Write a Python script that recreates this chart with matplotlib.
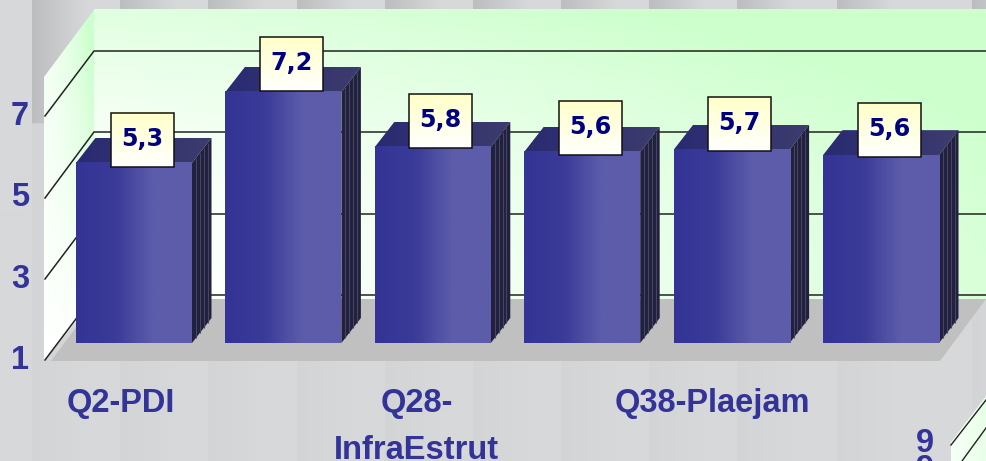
import numpy as np
import matplotlib
matplotlib.use("Agg")
import matplotlib.pyplot as plt
from matplotlib.patches import Polygon, Rectangle
from matplotlib.colors import LinearSegmentedColormap
from matplotlib.collections import LineCollection

# ---- data ----
categories = ["Q2-PDI", "", "Q28-\nInfraEstrut", "", "Q38-Plaejam", ""]
bar_heights = [5.42, 7.16, 5.81, 5.69, 5.74, 5.61]   # heights as drawn against the axis
value_labels = ["5,3", "7,2", "5,8", "5,6", "5,7", "5,6"]
y_ticks = [1, 3, 5, 7]

W, H = 986, 461
NAVY, TICK = "#000080", "#333399"
FONT = "Liberation Sans"
box_drop_px = [4, -1, 1, 3, 1, 2]

fig = plt.figure(figsize=(W / 100, H / 100), dpi=100)
bg = fig.add_axes([0, 0, 1, 1])       # pixel-space scenery
bg.set_xlim(0, W); bg.set_ylim(H, 0); bg.axis("off")

# background with soft vertical bands
band_starts = [32, 120, 208, 297, 385, 473, 561, 649, 737, 837, 972]
xs = np.arange(W)
dark = np.zeros(W)
for s in band_starts:
    dark = np.maximum(dark, np.where(xs >= s, np.clip(1 - (xs - s) / 55, 0, 1), 0))
base = np.array([0xd7, 0xd8, 0xda]) / 255
img = np.ones((H, W, 3)) * base
for yy in range(H):
    k = 0.105 if yy < 124 else 0.014
    img[yy] = base - (dark * k)[:, None]
bg.imshow(img, extent=(0, W, H, 0), aspect="auto", zorder=0, interpolation="bilinear")

# back wall
yy, xx = np.mgrid[0:1:60j, 0:1:120j]
t = np.clip(0.75 * xx ** 1.3 + 0.6 * (1 - yy) ** 2, 0, 1)
green = LinearSegmentedColormap.from_list("g", ["#ffffff", "#ccffcc"])
bg.imshow(t, extent=(94, W, 299, 10), origin="upper", aspect="auto", cmap=green,
          vmin=0, vmax=1, zorder=1)

# left wall
yy, xx = np.mgrid[0:1:60j, 0:1:40j]
t = np.clip((0.25 + 0.8 * xx ** 1.6) * (1 - yy ** 1.0) * 1.1, 0, 1)
im = bg.imshow(t, extent=(44, 94, 361, 10), origin="upper", aspect="auto", cmap=green,
               vmin=0, vmax=1, zorder=1)
clip = Polygon([(44, 77), (94, 10), (94, 299), (44, 361)], transform=bg.transData,
               fill=False, edgecolor="none")
bg.add_patch(clip)
im.set_clip_path(clip)

# floor
bg.add_patch(Polygon([(51, 361), (97, 299), (986, 299), (940, 361)],
                     facecolor="#c0c0c0", edgecolor="none", zorder=2))

# grid lines of the walls
for y_front, y_back in [(116, 51), (198, 132), (279, 214), (360, 295)]:
    bg.plot([45, 94, W], [y_front, y_back, y_back], color="#222222", lw=1.1, zorder=3,
            solid_joinstyle="miter")

# corner of the neighbouring chart, bottom right
yy, xx = np.mgrid[0:1:20j, 0:1:20j]
im2 = bg.imshow(np.clip(0.15 + 0.3 * xx, 0, 1), extent=(951, W, H, 396), origin="upper",
                aspect="auto", cmap=green, vmin=0, vmax=1, zorder=1)
clip2 = Polygon([(951, 442), (986, 396), (986, H), (951, H)], transform=bg.transData,
                fill=False, edgecolor="none")
bg.add_patch(clip2)
im2.set_clip_path(clip2)
bg.plot([951, 986], [445, 400], color="#222222", lw=1.0, zorder=3)
bg.plot([962, 986], [461, 428], color="#222222", lw=1.0, zorder=3)
bg.set_xlim(0, W); bg.set_ylim(H, 0)

# ---- data axes: value scale and category scale ----
PX_PER_UNIT = 40.75
PX_PER_CAT = 149.4
X0, Y1 = 134.0, 343.0
ax = fig.add_axes([0, 0, 1, 1])
ax.patch.set_alpha(0)
ax.axis("off")
xlim = (-X0 / PX_PER_CAT, (W - X0) / PX_PER_CAT)
ylim = (1 - (H - Y1) / PX_PER_UNIT, 1 + Y1 / PX_PER_UNIT)

BAR_W = 116 / PX_PER_CAT
DX = 19.5 / PX_PER_CAT
DY = 25 / PX_PER_UNIT
face = LinearSegmentedColormap.from_list("f", ["#343496", "#3a3a98", "#5c5cab", "#5c5cab"])
top = LinearSegmentedColormap.from_list("t", ["#2a2a72", "#3c3c6e"])
grad_h = np.linspace(0, 1, 128)[None, :]
grad_v = np.linspace(0, 1, 64)[:, None]
note = LinearSegmentedColormap.from_list("n", ["#ffffc8", "#ffffff"])
BOX_W, BOX_H = 63 / PX_PER_CAT, 54 / PX_PER_UNIT
BOX_DX = 8 / PX_PER_CAT

for i, h in enumerate(bar_heights):
    l, r = i - BAR_W / 2, i + BAR_W / 2
    # front face
    ax.imshow(grad_h, extent=(l, r, 1, h), aspect="auto", cmap=face, zorder=3)
    # top face
    tim = ax.imshow(grad_h, extent=(l, r + DX, h, h + DY), aspect="auto", cmap=top, zorder=2)
    tp = Polygon([(l, h), (r, h), (r + DX, h + DY), (l + DX, h + DY)], fill=False,
                 edgecolor="none", transform=ax.transData)
    ax.add_patch(tp)
    tim.set_clip_path(tp)
    # side face with its fine stripes
    ax.add_patch(Polygon([(r, 1), (r + DX, 1 + DY), (r + DX, h + DY), (r, h)],
                         facecolor="#21213f", edgecolor="none", zorder=2))
    stripes = []
    for f in (0.2, 0.4, 0.6, 0.8):
        stripes.append([(r + f * DX, 1 + f * DY), (r + f * DX, h + f * DY)])
    ax.add_collection(LineCollection(stripes, colors="#45455f", linewidths=0.8, zorder=2.5))
    # value box
    b_bot = h - box_drop_px[i] / PX_PER_UNIT
    bl, br = i + BOX_DX - BOX_W / 2, i + BOX_DX + BOX_W / 2
    ax.imshow(grad_v, extent=(bl, br, b_bot, b_bot + BOX_H), origin="upper", aspect="auto",
              cmap=note, zorder=5)
    ax.add_patch(Rectangle((bl, b_bot), BOX_W, BOX_H, fill=False, edgecolor="#111111",
                           lw=1.1, zorder=6))
    ax.text(i + BOX_DX, b_bot + BOX_H / 2 + 1 / PX_PER_UNIT, value_labels[i], ha="center",
            va="center", color=NAVY, fontsize=17.2, fontweight="bold",
            family="DejaVu Sans", zorder=7)

# value axis labels
for v in y_ticks:
    ax.annotate(str(v), (-X0 / PX_PER_CAT + 20 / PX_PER_CAT, v), xytext=(0, -12.8),
                textcoords="offset points", ha="center", va="center", color=TICK,
                fontsize=23.5, fontweight="bold", family=FONT, zorder=8)

# category labels
for i, c in enumerate(categories):
    if c:
        ax.annotate(c, (i, 1), xytext=(-9.36 - 1.08 * i, -32.1), textcoords="offset points",
                    ha="center", va="top", color=TICK, fontsize=23.5, fontweight="bold",
                    family=FONT, linespacing=1.68, zorder=8)

# tick labels of the neighbouring chart
ax.text((925 - X0) / PX_PER_CAT, 1 - (443 - Y1) / PX_PER_UNIT, "9", ha="center", va="center",
        color=TICK, fontsize=23.5, fontweight="bold", family=FONT, zorder=8)
ax.text((925 - X0) / PX_PER_CAT, 1 - (469 - Y1) / PX_PER_UNIT, "9", ha="center", va="center",
        color=TICK, fontsize=23.5, fontweight="bold", family=FONT, zorder=8)

ax.set_xlim(*xlim)
ax.set_ylim(*ylim)
fig.savefig("out.png", dpi=100)
